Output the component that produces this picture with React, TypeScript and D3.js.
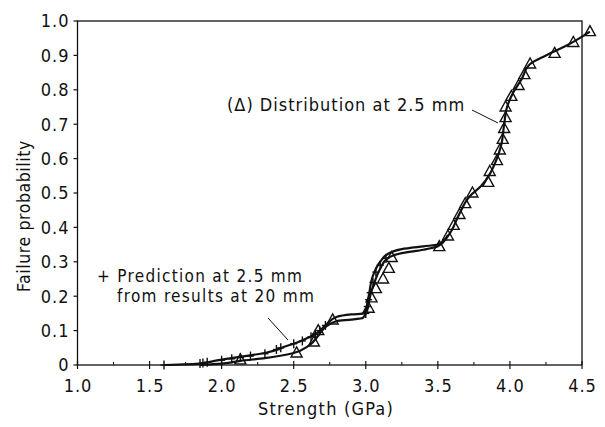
import React from "react";
import * as d3 from "d3";

// Strength (GPa) and failure probability of the measured 2.5 mm specimens (triangles)
const distStrength = [2.13, 2.52, 2.64, 2.67, 2.77, 3.02, 3.04, 3.07, 3.12, 3.16, 3.18, 3.51, 3.57, 3.61, 3.65, 3.69, 3.74, 3.85, 3.86, 3.91, 3.93, 3.95, 3.96, 3.97, 3.97, 4.01, 4.06, 4.10, 4.14, 4.31, 4.44, 4.555];
const distProb = [0.015, 0.035, 0.067, 0.10, 0.131, 0.165, 0.195, 0.222, 0.25, 0.281, 0.3125, 0.344, 0.375, 0.406, 0.4375, 0.469, 0.5, 0.531, 0.5625, 0.594, 0.625, 0.656, 0.6875, 0.719, 0.75, 0.781, 0.8125, 0.844, 0.875, 0.906, 0.9375, 0.969];

// Predicted 2.5 mm strengths scaled from the 20 mm results (plus signs)
const predStrength = [1.6, 1.85, 1.87, 1.9, 2.0, 2.07, 2.13, 2.2, 2.3, 2.38, 2.41, 2.5, 2.56, 2.62, 2.65, 2.68, 2.72, 3.0, 3.01, 3.02, 3.03, 3.05, 3.07, 3.1, 3.14];
const predProb = [0.0, 0.004, 0.006, 0.008, 0.014, 0.018, 0.022, 0.026, 0.033, 0.045, 0.05, 0.062, 0.07, 0.082, 0.09, 0.1, 0.115, 0.15, 0.17, 0.19, 0.21, 0.24, 0.27, 0.29, 0.31];

// Smoothed curve drawn through the measured distribution
const distCurveX = [1.85, 2.0, 2.13, 2.3, 2.5, 2.6, 2.67, 2.72, 2.8, 2.9, 2.98, 3.01, 3.03, 3.06, 3.1, 3.15, 3.25, 3.4, 3.5, 3.57, 3.65, 3.72, 3.8, 3.86, 3.9, 3.94, 3.96, 3.98, 4.02, 4.08, 4.14, 4.25, 4.4, 4.555];
const distCurveY = [0.0, 0.004, 0.012, 0.02, 0.035, 0.055, 0.085, 0.11, 0.128, 0.132, 0.137, 0.16, 0.2, 0.24, 0.28, 0.31, 0.325, 0.335, 0.345, 0.375, 0.44, 0.49, 0.52, 0.555, 0.59, 0.64, 0.7, 0.75, 0.79, 0.83, 0.875, 0.9, 0.93, 0.969];

// Smoothed curve drawn through the prediction
const predCurveX = [1.6, 1.85, 1.95, 2.1, 2.3, 2.45, 2.55, 2.65, 2.72, 2.8, 2.9, 2.99, 3.02, 3.05, 3.1, 3.15, 3.25, 3.4, 3.5, 3.57];
const predCurveY = [0.0, 0.004, 0.012, 0.022, 0.035, 0.055, 0.07, 0.09, 0.115, 0.14, 0.147, 0.15, 0.2, 0.26, 0.3, 0.322, 0.337, 0.345, 0.35, 0.378];

const xTicks = [1.0, 1.5, 2.0, 2.5, 3.0, 3.5, 4.0, 4.5];
const xMinorTicks = [1.25, 1.75, 2.25, 2.75, 3.25, 3.75, 4.25];
const yTicks = [0, 0.1, 0.2, 0.3, 0.4, 0.5, 0.6, 0.7, 0.8, 0.9, 1.0];

const W = 605;
const H = 427;
const FONT = "'DejaVu Sans Condensed', 'DejaVu Sans', sans-serif";

export default function App() {
  const x = d3.scaleLinear().domain([1, 4.5]).range([77.5, 582]);
  const y = d3.scaleLinear().domain([0, 1]).range([365, 21]);

  const line = d3
    .line<[number, number]>()
    .x((d) => x(d[0]))
    .y((d) => y(d[1]))
    .curve(d3.curveMonotoneY);

  const distCurve = distCurveX.map((v, i) => [v, distCurveY[i]] as [number, number]);
  const predCurve = predCurveX.map((v, i) => [v, predCurveY[i]] as [number, number]);

  const x0 = x(1);
  const x1 = x(4.5);
  const y0 = y(0);
  const y1 = y(1);

  const textStyle = { letterSpacing: "1px" };
  const noteStyle = { letterSpacing: "1.3px" };

  return (
    <svg
      width={W}
      height={H}
      viewBox={`0 0 ${W} ${H}`}
      style={{ position: "absolute", left: 0, top: 0, background: "#fff" }}
      fontFamily={FONT}
    >
      {/* frame */}
      <rect x={x0} y={y1} width={x1 - x0} height={y0 - y1} fill="none" stroke="#111" strokeWidth={1.3} />

      {/* y axis ticks and labels */}
      {yTicks.map((t) => (
        <g key={`y${t}`}>
          <line x1={x0 - 4} x2={x0} y1={y(t)} y2={y(t)} stroke="#111" strokeWidth={1.2} />
          <text x={x0 - 8} y={y(t)} dy="0.36em" textAnchor="end" fontSize={18} fill="#111" style={textStyle}>
            {t === 0 ? "0" : t.toFixed(1)}
          </text>
        </g>
      ))}

      {/* x axis ticks and labels */}
      {xTicks.map((t) => (
        <g key={`x${t}`}>
          <line x1={x(t)} x2={x(t)} y1={y0 - 4} y2={y0 + 4} stroke="#111" strokeWidth={1.2} />
          <text x={x(t) + 0.5} y={392} textAnchor="middle" fontSize={18} fill="#111" style={textStyle}>
            {t.toFixed(1)}
          </text>
        </g>
      ))}
      {xMinorTicks.map((t) => (
        <line key={`xm${t}`} x1={x(t)} x2={x(t)} y1={y0 - 3} y2={y0} stroke="#111" strokeWidth={1.1} />
      ))}

      {/* axis titles */}
      <text x={326} y={415} textAnchor="middle" fontSize={18} fill="#111" style={{ letterSpacing: "1.2px" }}>
        Strength (GPa)
      </text>
      <text
        transform="translate(30,216) rotate(-90)"
        textAnchor="middle"
        fontSize={17.5}
        fill="#111"
        style={{ letterSpacing: "0.6px" }}
      >
        Failure probability
      </text>

      {/* curves */}
      <path d={line(predCurve) ?? ""} fill="none" stroke="#111" strokeWidth={2.2} />
      <path d={line(distCurve) ?? ""} fill="none" stroke="#111" strokeWidth={2.2} />

      {/* plus markers */}
      {predStrength.map((v, i) => (
        <g key={`p${i}`} transform={`translate(${x(v)},${y(predProb[i])})`} stroke="#111" strokeWidth={1.4}>
          <line x1={0} x2={0} y1={-4.5} y2={4.5} />
          <line x1={-3.5} x2={3.5} y1={0} y2={0} />
        </g>
      ))}

      {/* triangle markers */}
      {distStrength.map((v, i) => (
        <path
          key={`t${i}`}
          transform={`translate(${x(v)},${y(distProb[i])})`}
          d="M0,-6 L5.5,4 L-5.5,4 Z"
          fill="none"
          stroke="#111"
          strokeWidth={1.4}
        />
      ))}

      {/* annotations */}
      <text x={227} y={111} fontSize={18} fill="#111" style={textStyle}>
        (Δ) Distribution at 2.5 mm
      </text>
      <line x1={472} y1={110} x2={498} y2={123} stroke="#111" strokeWidth={1} />

      <text x={97} y={282} fontSize={17} fill="#111" style={noteStyle}>
        + Prediction at 2.5 mm
      </text>
      <text x={117} y={302} fontSize={17} fill="#111" style={noteStyle}>
        from results at 20 mm
      </text>
      <line x1={268} y1={318} x2={288} y2={340} stroke="#111" strokeWidth={1} />
    </svg>
  );
}
